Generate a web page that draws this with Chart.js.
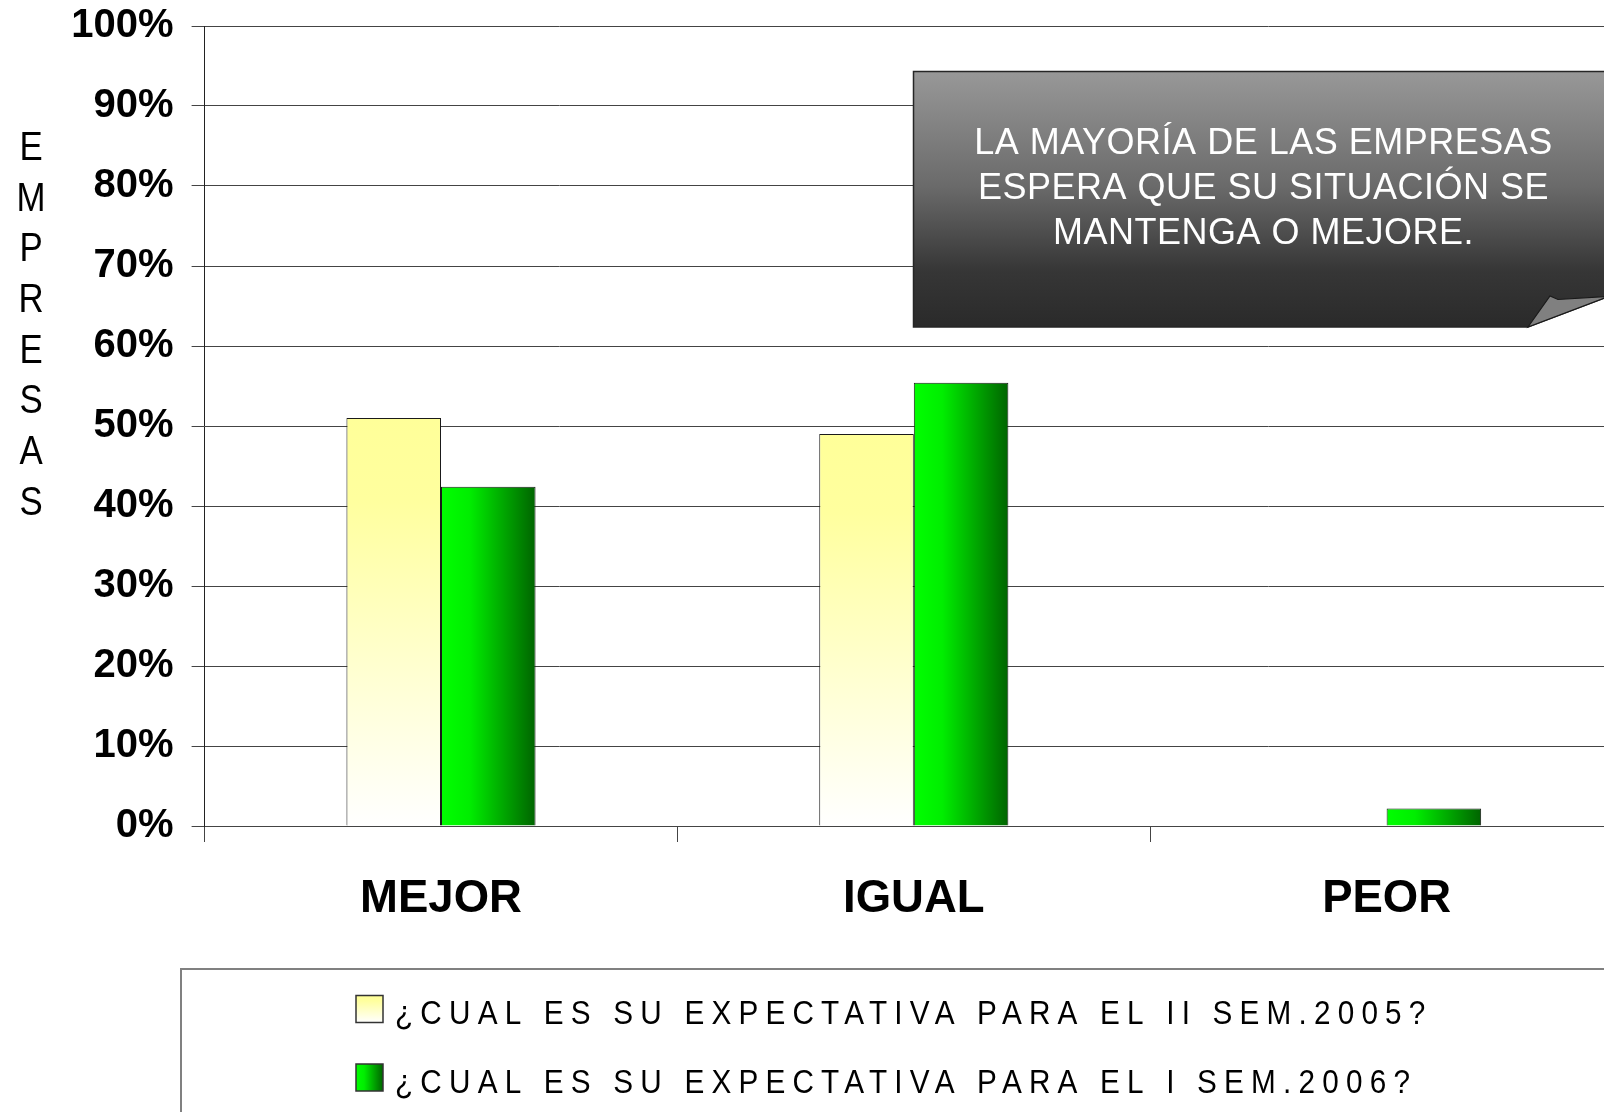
<!DOCTYPE html>
<html>
<head>
<meta charset="utf-8">
<script src="https://cdn.jsdelivr.net/npm/chart.js@4.4.1/dist/chart.umd.min.js"></script>
<style>
  html, body { margin: 0; padding: 0; background: #fff; overflow: hidden; }
  #wrap { width: 1640px; height: 1112px; }
</style>
</head>
<body>
<div id="wrap"><canvas id="expectativas"></canvas></div>
<script>
  const categories = ['MEJOR', 'IGUAL', 'PEOR'];
  const sem2005 = [51.0, 49.0, 0];
  const sem2006 = [42.4, 55.4, 2.2];
  const seriesLabels = [
    '¿CUAL ES SU EXPECTATIVA PARA EL II SEM.2005?',
    '¿CUAL ES SU EXPECTATIVA PARA EL I SEM.2006?'
  ];
  const yTickLabels = ['0%', '10%', '20%', '30%', '40%', '50%', '60%', '70%', '80%', '90%', '100%'];
  const yTitle = 'EMPRESAS';
  const noteLines = ['LA MAYORÍA DE LAS EMPRESAS', 'ESPERA QUE SU SITUACIÓN SE', 'MANTENGA O MEJORE.'];

  const FONT = '"Liberation Sans", Arial, sans-serif';
  const ctx = document.getElementById('expectativas').getContext('2d');

  // yellow: top to bottom fade to white
  function yellowGradient(c2d, top, bottom) {
    const g = c2d.createLinearGradient(0, top, 0, bottom);
    g.addColorStop(0, '#ffff99');
    g.addColorStop(0.2, '#ffff9e');
    g.addColorStop(1, '#ffffff');
    return g;
  }
  // green: bright on the left, dark on the right
  function greenGradient(c2d, left, right) {
    const g = c2d.createLinearGradient(left, 0, right, 0);
    g.addColorStop(0, '#00ff00');
    g.addColorStop(0.3, '#00ee00');
    g.addColorStop(1, '#006400');
    return g;
  }

  function yellowFill(c) {
    const chart = c.chart;
    if (!chart.chartArea || c.type !== 'data') return '#ffff99';
    const y = chart.scales.y;
    const top = y.getPixelForValue(c.raw), base = y.getPixelForValue(0);
    if (base - top < 1) return '#ffff99';
    return yellowGradient(chart.ctx, top, base);
  }

  function greenFill(c) {
    const chart = c.chart;
    if (!chart.chartArea || c.type !== 'data') return '#00cc00';
    const x = chart.scales.x;
    const catW = x.width / categories.length;
    const left = x.getPixelForValue(c.dataIndex);
    return greenGradient(chart.ctx, left, left + catW * 0.2);
  }

  const decor = {
    id: 'decor',
    afterDraw(chart) {
      const c = chart.ctx;
      c.save();

      // stacked axis title
      c.fillStyle = '#000';
      c.font = '41px ' + FONT;
      c.textAlign = 'center';
      c.textBaseline = 'middle';
      const step = 50.7, midY = 326;
      yTitle.split('').forEach((ch, i) => {
        c.save();
        c.translate(31, midY + (i - (yTitle.length - 1) / 2) * step);
        c.scale(0.85, 1);
        c.fillText(ch, 0, 0);
        c.restore();
      });

      // note box with curled corner
      const L = 913.5, T = 71.6, B = 327, R = chart.width;
      const ax = 1528, ay = 327, tx = 1609, ty = 296.3;
      const slope = (ty - ay) / (tx - ax);
      const g = c.createLinearGradient(0, T, 0, B);
      g.addColorStop(0, '#989898');
      g.addColorStop(0.45, '#6a6a6a');
      g.addColorStop(0.78, '#363636');
      g.addColorStop(1, '#2a2a2a');
      c.beginPath();
      c.moveTo(L, T);
      c.lineTo(R, T);
      c.lineTo(R, ay + slope * (R - ax));
      c.lineTo(ax, ay);
      c.lineTo(L, B);
      c.closePath();
      c.fillStyle = g;
      c.fill();
      c.lineWidth = 1.5;
      c.strokeStyle = '#262626';
      c.stroke();

      c.beginPath();
      c.moveTo(ax, ay);
      c.lineTo(1550, 296);
      c.lineTo(1558, 299.5);
      c.lineTo(tx, ty);
      c.closePath();
      c.fillStyle = '#808080';
      c.fill();
      c.lineWidth = 1.2;
      c.strokeStyle = '#1a1a1a';
      c.stroke();

      c.fillStyle = '#ffffff';
      c.font = '36px ' + FONT;
      c.letterSpacing = '0.5px';
      c.textAlign = 'center';
      noteLines.forEach((line, i) => c.fillText(line, 1263.5, 144 + i * 45));

      // legend
      c.lineWidth = 2;
      c.strokeStyle = '#808080';
      c.strokeRect(181, 969, chart.width, 400);

      c.font = '33px ' + FONT;
      c.letterSpacing = '8px';
      c.textAlign = 'left';
      seriesLabels.forEach((label, i) => {
        const cy = 1015 + i * 68.5;
        const sx = 356, sy = cy - 6 - 13.5, sw = 27;
        c.fillStyle = i === 0 ? yellowGradient(c, sy, sy + sw) : greenGradient(c, sx, sx + sw);
        c.fillRect(sx, sy, sw, sw);
        c.lineWidth = 1.5;
        c.strokeStyle = '#333';
        c.strokeRect(sx, sy, sw, sw);
        c.save();
        c.translate(395, cy);
        c.scale(0.9, 1);
        c.fillStyle = '#000';
        c.fillText(label, 0, 0);
        c.restore();
      });

      c.restore();
    }
  };

  const chart = new Chart(ctx, {
    type: 'bar',
    data: {
      labels: categories,
      datasets: [{
        label: seriesLabels[0],
        data: sem2005,
        backgroundColor: yellowFill,
        borderColor: '#1a1a1a',
        borderWidth: 1,
      }, {
        label: seriesLabels[1],
        data: sem2006,
        backgroundColor: greenFill,
        borderColor: '#1a1a1a',
        borderWidth: 1,
      }]
    },
    options: {
      responsive: true,
      maintainAspectRatio: false,
      animation: false,
      layout: { padding: { top: 26, right: 17, bottom: 176, left: 0 } },
      datasets: { bar: { categoryPercentage: 0.4, barPercentage: 1 } },
      plugins: { legend: { display: false }, tooltip: { enabled: false } },
      scales: {
        x: {
          grid: { offset: true, drawOnChartArea: false, tickLength: 16, color: '#444' },
          border: { color: '#444' },
          ticks: { font: { family: FONT, size: 45.5, weight: 'bold' }, color: '#000', padding: 30, maxRotation: 0 },
          afterFit: s => { s.height = 110; }
        },
        y: {
          min: 0,
          max: 100,
          ticks: {
            stepSize: 10,
            callback: (v, i) => yTickLabels[i],
            font: { family: FONT, size: 40, weight: 'bold' },
            color: '#000',
            padding: 18
          },
          grid: { color: '#444', tickLength: 13 },
          border: { color: '#222' },
          // fixed axis width, and no extra room for the top/bottom labels
          afterFit: s => { s.width = 204.6; s.paddingTop = 0; s.paddingBottom = 0; }
        }
      }
    },
    plugins: [decor]
  });
</script>
</body>
</html>
